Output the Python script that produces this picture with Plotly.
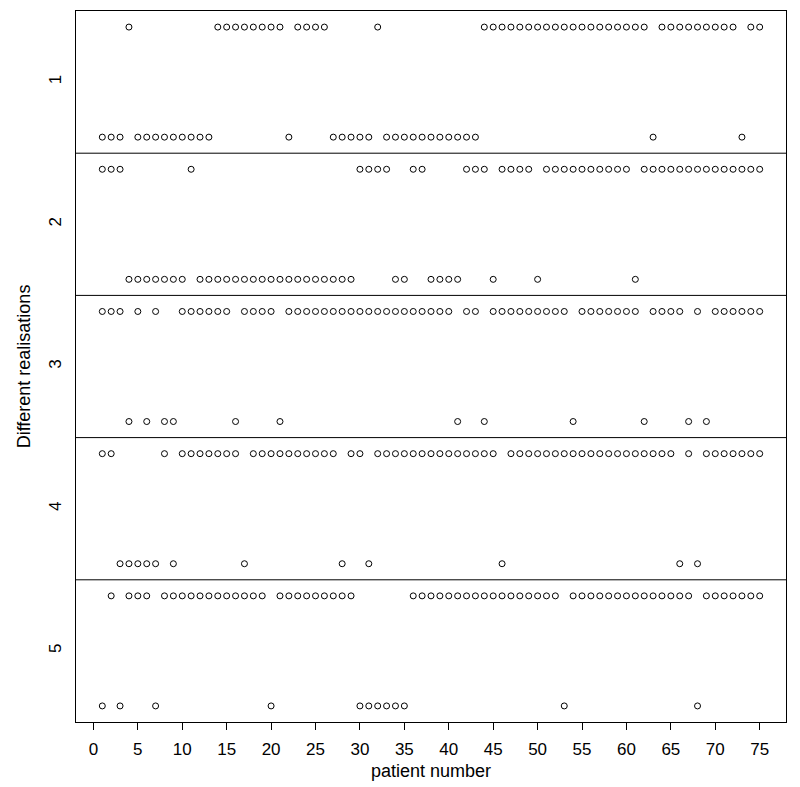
import plotly.graph_objects as go

# patient numbers on the x axis
patients = list(range(1, 76))
realisations = [1, 2, 3, 4, 5]
realisation_labels = ["1", "2", "3", "4", "5"]
x_tick_vals = list(range(0, 76, 5))
x_tick_labels = [str(v) for v in x_tick_vals]

# patients whose outcome sits in the lower row of each realisation band
low_r1 = [1, 2, 3, 5, 6, 7, 8, 9, 10, 11, 12, 13, 22, 27, 28, 29, 30, 31,
          33, 34, 35, 36, 37, 38, 39, 40, 41, 42, 43, 63, 73]
low_r2 = [4, 5, 6, 7, 8, 9, 10, 12, 13, 14, 15, 16, 17, 18, 19, 20, 21, 22,
          23, 24, 25, 26, 27, 28, 29, 34, 35, 38, 39, 40, 41, 45, 50, 61]
low_r3 = [4, 6, 8, 9, 16, 21, 41, 44, 54, 62, 67, 69]
low_r4 = [3, 4, 5, 6, 7, 9, 17, 28, 31, 46, 66, 68]
low_r5 = [1, 3, 7, 20, 30, 31, 32, 33, 34, 35, 53, 68]
low_rows = [low_r1, low_r2, low_r3, low_r4, low_r5]

OFF = 0.387

fig = go.Figure()
for r, low in zip(realisations, low_rows):
    status = [0 if p in low else 1 for p in patients]
    ys = [r - OFF if s == 1 else r + OFF for s in status]
    fig.add_trace(go.Scatter(
        x=patients, y=ys, mode="markers",
        marker=dict(symbol="circle-open", size=6, color="black",
                    line=dict(width=1, color="black")),
        showlegend=False, hoverinfo="x+y"))

for r in realisations[:-1]:
    fig.add_shape(type="line", xref="paper", x0=0, x1=1, yref="y",
                  y0=r + 0.5, y1=r + 0.5, line=dict(color="black", width=1))

FONT = "Liberation Sans, Arial, sans-serif"

fig.update_layout(
    width=792, height=779,
    margin=dict(l=68, r=14, t=3, b=65, pad=0),
    plot_bgcolor="white", paper_bgcolor="white",
    font=dict(family=FONT, size=18, color="black"),
    xaxis=dict(range=[-1.96, 77.96], tickvals=x_tick_vals, ticktext=x_tick_labels,
               ticks="outside", ticklen=7, tickcolor="black", tickwidth=1,
               ticklabelstandoff=5,
               showline=True, mirror=True, linecolor="black", linewidth=1,
               showgrid=False, zeroline=False, automargin=False,
               tickfont=dict(family=FONT, size=17),
               title=dict(text="patient number", standoff=5,
                          font=dict(family=FONT, size=18))),
    yaxis=dict(range=[5.5, 0.5], tickvals=realisations, ticktext=realisation_labels,
               tickangle=-90, ticks="", ticklabelstandoff=7,
               showline=True, mirror=True, linecolor="black", linewidth=1,
               showgrid=False, zeroline=False, automargin=False,
               tickfont=dict(family=FONT, size=17),
               title=dict(text="Different realisations", standoff=10,
                          font=dict(family=FONT, size=18))),
)

fig.write_html("out.html")
